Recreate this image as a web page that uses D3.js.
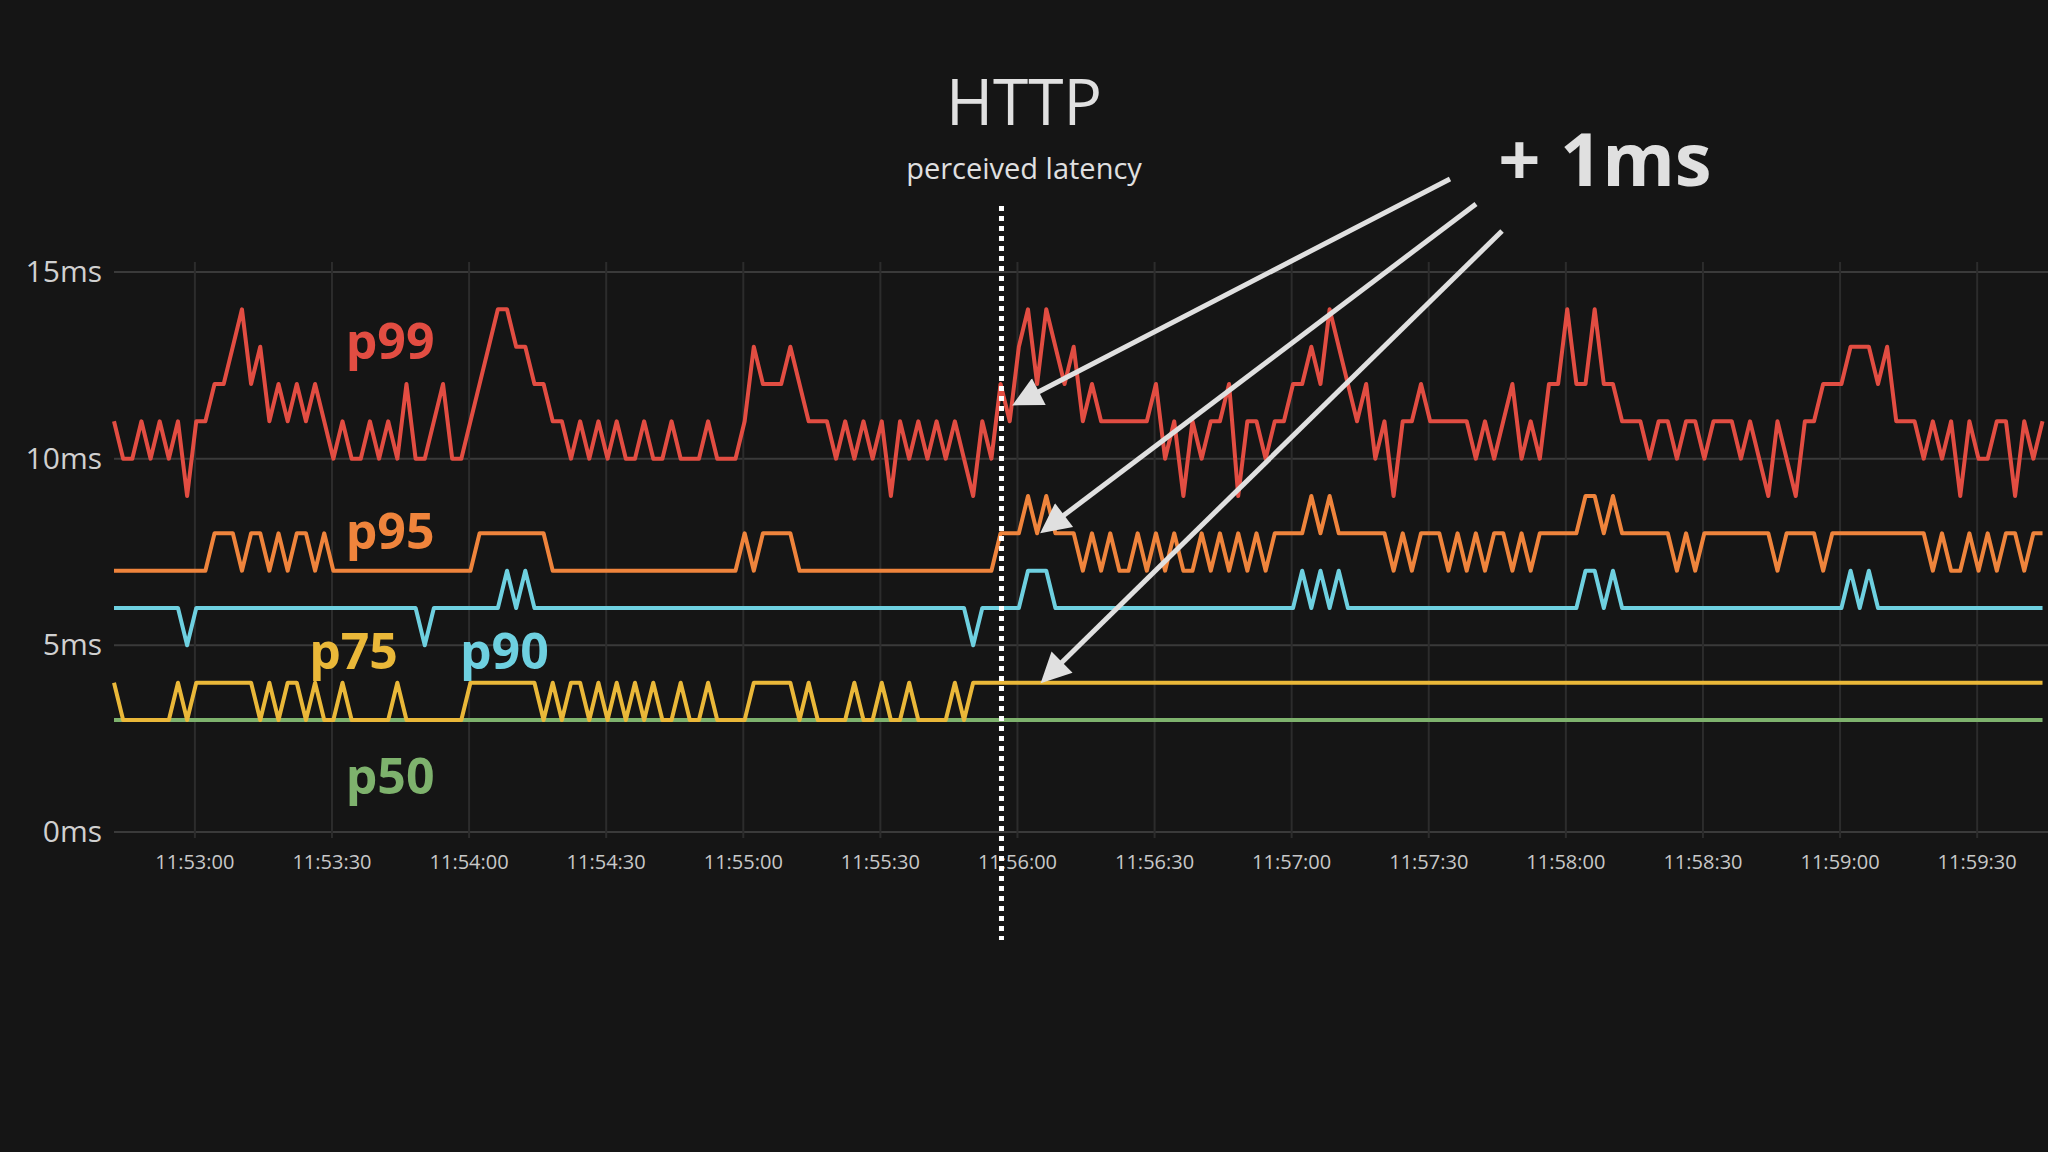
<!DOCTYPE html>
<html>
<head>
<meta charset="utf-8">
<script src="https://cdn.jsdelivr.net/npm/d3@7"></script>
<style>
  html, body { margin: 0; padding: 0; background: #151515; }
  text { font-family: "Open Sans", "Noto Sans", sans-serif; }
</style>
</head>
<body>
<svg id="chart" width="2048" height="1152"></svg>
<script>
// samples every 2s starting 11:52:42.3
const startTime = new Date(2020, 0, 1, 11, 52, 42, 300)
const stepMs = 2000

const p99 = [
  11,10,10,11,10,11,10,11,9,11, 11,12,12,13,14,12,13,11,12,11, 12,11,12,11,10,11,10,10,11,10,
  11,10,12,10,10,11,12,10,10,11, 12,13,14,14,13,13,12,12,11,11, 10,11,10,11,10,11,10,10,11,10,
  10,11,10,10,10,11,10,10,10,11, 13,12,12,12,13,12,11,11,11,10, 11,10,11,10,11,9,11,10,11,10,
  11,10,11,10,9,11,10,
  12,11,13,14,12,14,13,12,13,11, 12,11,11,11,11,11,11,12,10,11, 9,11,10,11,11,12,9,11,11,10,
  11,11,12,12,13,12,14,13,12,11, 12,10,11,9,11,11,12,11,11,11, 11,11,10,11,10,11,12,10,11,10,
  12,12,14,12,12,14,12,12,11,11, 11,10,11,11,10,11,11,10,11,11, 11,10,11,10,9,11,10,9,11,11,
  12,12,12,13,13,13,12,13,11,11, 11,10,11,10,11,9,11,10,10,11, 11,9,11,10,11
]
const p95 = [
  7,7,7,7,7,7,7,7,7,7,7, 8,8,8,7,8,8,7, 8,7,8,8,7,8,
  7,7,7,7,7,7,7,7,7,7,7,7,7,7,7,7, 8,8,8,8,8,8,8,8,
  7,7,7,7,7,7,7,7,7,7,7,7,7,7,7,7,7,7,7,7,7, 8,7,8,8,8,8,
  7,7,7,7,7,7,7,7,7,7,7,7,7,7,7,7,7,7,7,7,7,7,
  8,8,8, 9,8,9, 8,8,8,
  7,8,7,8,7,7,8,7,8,7,8,7,7,8,7,8,7,8,7,8,7,8,8,
  8,8,9,8,9,8,8, 8,8,8,8,
  7,8,7,8,8,8,7,8,7,8,7,8,8,7,8,7,
  8,8,8,8,8, 9,9,8,9, 8,8,8,8,8,8, 7,8,7, 8,8,8,8,8,8,8,8, 7, 8,8,8,8, 7,
  8,8,8,8,8,8,8,8,8,8,8, 7,8,7,7,8,7,8,7, 8,8, 7, 8,8
]
const p90 = [
  6,6,6,6,6,6,6,6,5,6, 6,6,6,6,6,6,6,6,6,6, 6,6,6,6,6,6,6,6,6,6,
  6,6,6,6,5,6,6,6,6,6, 6,6,6,7,6,7,6,6,6,6, 6,6,6,6,6,6,6,6,6,6,
  6,6,6,6,6,6,6,6,6,6, 6,6,6,6,6,6,6,6,6,6, 6,6,6,6,6,6,6,6,6,6,
  6,6,6,6,5,6,6,
  6,6,6,7,7,7,6,6,6,6, 6,6,6,6,6,6,6,6,6,6, 6,6,6,6,6,6,6,6,6,6,
  6,6,6,7,6,7,6,7,6,6, 6,6,6,6,6,6,6,6,6,6, 6,6,6,6,6,6,6,6,6,6,
  6,6,6,6,7,7,6,7,6,6, 6,6,6,6,6,6,6,6,6,6, 6,6,6,6,6,6,6,6,6,6,
  6,6,6,7,6,7,6,6,6,6, 6,6,6,6,6,6,6,6,6,6, 6,6,6,6,6
]
const p75 = [
  4,3,3,3,3,3,3,4,3,4, 4,4,4,4,4,4,3,4,3,4, 4,3,4,3,3,4,3,3,3,3,
  3,4,3,3,3,3,3,3,3,4, 4,4,4,4,4,4,4,3,4,3, 4,4,3,4,3,4,3,4,3,4,
  3,3,4,3,3,4,3,3,3,3, 4,4,4,4,4,3,4,3,3,3, 3,4,3,3,4,3,3,4,3,3,
  3,3,4,3,4,4,4,
  4,4,4,4,4,4,4,4,4,4, 4,4,4,4,4,4,4,4,4,4, 4,4,4,4,4,4,4,4,4,4,
  4,4,4,4,4,4,4,4,4,4, 4,4,4,4,4,4,4,4,4,4, 4,4,4,4,4,4,4,4,4,4,
  4,4,4,4,4,4,4,4,4,4, 4,4,4,4,4,4,4,4,4,4, 4,4,4,4,4,4,4,4,4,4,
  4,4,4,4,4,4,4,4,4,4, 4,4,4,4,4,4,4,4,4,4, 4,4,4,4,4
]
const p50 = p75.map(() => 3)

const seriesNames = ["p50", "p75", "p90", "p95", "p99"]
const seriesColors = ["#7eb26d", "#eab839", "#6ed0e0", "#ef843c", "#e24d42"]
const yTicks = [0, 5, 10, 15]
const xTickTimes = ["11:53:00","11:53:30","11:54:00","11:54:30","11:55:00","11:55:30",
                    "11:56:00","11:56:30","11:57:00","11:57:30","11:58:00","11:58:30","11:59:00","11:59:30"]

const svg = d3.select("#chart")
svg.append("rect").attr("width", 2048).attr("height", 1152).attr("fill", "#151515")

const parseT = s => { const [h, m, sec] = s.split(":").map(Number); return new Date(2020, 0, 1, h, m, sec) }

const x = d3.scaleTime()
    .domain([startTime, new Date(2020, 0, 1, 11, 59, 45, 500)])
    .range([114, 2048])
const y = d3.scaleLinear().domain([0, 15]).range([832, 272])

const tOf = i => new Date(startTime.getTime() + i * stepMs)

// grid
const g = svg.append("g")
g.selectAll(".hgrid").data(yTicks).enter().append("line")
  .attr("x1", 114).attr("x2", 2048)
  .attr("y1", d => y(d)).attr("y2", d => y(d))
  .attr("stroke", "#3a3a3a").attr("stroke-width", 2)
g.selectAll(".vgrid").data(xTickTimes).enter().append("line")
  .attr("x1", d => x(parseT(d))).attr("x2", d => x(parseT(d)))
  .attr("y1", 262).attr("y2", 838)
  .attr("stroke", "#2c2c2c").attr("stroke-width", 2)

g.selectAll(".ylab").data(yTicks).enter().append("text")
  .attr("x", 102).attr("y", d => y(d) + 10)
  .attr("text-anchor", "end").attr("fill", "#d0d0d0").attr("font-size", 30)
  .text(d => d + "ms")
g.selectAll(".xlab").data(xTickTimes).enter().append("text")
  .attr("x", d => x(parseT(d))).attr("y", 869)
  .attr("text-anchor", "middle").attr("fill", "#c8c8c8").attr("font-size", 20)
  .text(d => d)

// series
const allData = [p50, p75, p90, p95, p99]
const line = d3.line().x((d, i) => x(tOf(i))).y(d => y(d))
allData.forEach((arr, k) => {
  svg.append("path").datum(arr)
    .attr("d", line)
    .attr("fill", "none")
    .attr("stroke", seriesColors[k])
    .attr("stroke-width", 4)
    .attr("stroke-linejoin", "round")
})

// series labels
const labelPos = [
  {name: "p99", t: "11:53:33", v: 12.67},
  {name: "p95", t: "11:53:33", v: 7.58},
  {name: "p75", t: "11:53:25", v: 4.37},
  {name: "p90", t: "11:53:58", v: 4.37},
  {name: "p50", t: "11:53:33", v: 1.02}
]
svg.selectAll(".slab").data(labelPos).enter().append("text")
  .attr("x", d => x(parseT(d.t))).attr("y", d => y(d.v))
  .attr("fill", d => seriesColors[seriesNames.indexOf(d.name)])
  .attr("font-size", 50).attr("font-weight", "bold")
  .text(d => d.name)

// dotted deploy marker
const deployT = new Date(2020, 0, 1, 11, 55, 56, 500)
svg.append("line")
  .attr("x1", x(deployT)).attr("x2", x(deployT))
  .attr("y1", 206).attr("y2", 940)
  .attr("stroke", "#ffffff").attr("stroke-width", 5)
  .attr("stroke-dasharray", "5,5")

svg.append("text").attr("x", 1024).attr("y", 125).attr("text-anchor", "middle")
  .attr("fill", "#e0e0e0").attr("font-size", 64).text("HTTP")
svg.append("text").attr("x", 1024).attr("y", 179).attr("text-anchor", "middle")
  .attr("fill", "#e0e0e0").attr("font-size", 29).text("perceived latency")
svg.append("text").attr("x", 1605).attr("y", 186).attr("text-anchor", "middle")
  .attr("fill", "#e0e0e0").attr("font-size", 74).attr("font-weight", "bold").text("+ 1ms")

// arrows
svg.append("defs").append("marker")
  .attr("id", "head").attr("viewBox", "0 0 10 10").attr("refX", 8).attr("refY", 5)
  .attr("markerWidth", 7).attr("markerHeight", 6).attr("orient", "auto")
  .attr("markerUnits", "strokeWidth")
  .append("path").attr("d", "M0,0 L10,5 L0,10 z").attr("fill", "#e0e0e0")
const arrows = [
  {from: [1450, 179], t: new Date(2020, 0, 1, 11, 56, 0), v: 11.5},
  {from: [1476, 204], t: new Date(2020, 0, 1, 11, 56, 6), v: 8.1},
  {from: [1502, 231], t: new Date(2020, 0, 1, 11, 56, 6), v: 4.1}
]
svg.selectAll(".arrow").data(arrows).enter().append("line")
  .attr("x1", d => d.from[0]).attr("y1", d => d.from[1])
  .attr("x2", d => x(d.t)).attr("y2", d => y(d.v))
  .attr("stroke", "#e0e0e0").attr("stroke-width", 5)
  .attr("marker-end", "url(#head)")
</script>
</body>
</html>
